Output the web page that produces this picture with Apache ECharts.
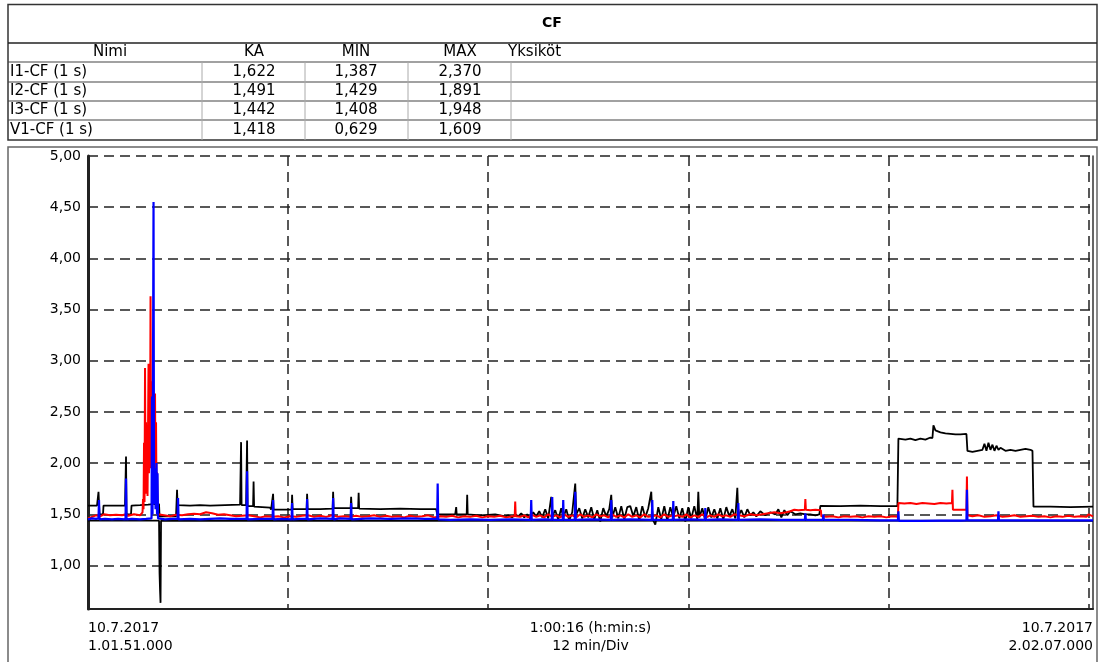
<!DOCTYPE html>
<html><head><meta charset="utf-8">
<script src="https://cdn.jsdelivr.net/npm/echarts@6/dist/echarts.min.js"></script>
<style>html,body{margin:0;padding:0;background:#fff}#c{width:1099px;height:662px}</style>
</head><body><div id="c"></div><script>
// ---------- table data ----------
const tableTitle = 'CF';
const headers = ['Nimi', 'KA', 'MIN', 'MAX', 'Yksiköt'];
const names = ['I1-CF (1 s)', 'I2-CF (1 s)', 'I3-CF (1 s)', 'V1-CF (1 s)'];
const avgVals = ['1,622', '1,491', '1,442', '1,418'];
const minVals = ['1,387', '1,429', '1,408', '0,629'];
const maxVals = ['2,370', '1,891', '1,948', '1,609'];

// ---------- axis ----------
const yTicks = [1, 1.5, 2, 2.5, 3, 3.5, 4, 4.5, 5];
const yMin = 0.575, yMax = 5;
const xDivs = [0, 12, 24, 36, 48, 60];      // minutes, 12 min/Div
const xSpan = 60.27;                         // 1:00:16
const startLabel = '10.7.2017\n1.01.51.000';
const endLabel = '10.7.2017\n2.02.07.000';
const midLabel = '1:00:16 (h:min:s)\n12 min/Div';

// ---------- series (minutes from start, value) ----------
const I1 = [
[0.00,1.585],[0.54,1.585],[0.63,1.72],[0.69,1.50],[0.90,1.50],[0.93,1.585],[2.22,1.585],[2.28,2.065],[2.31,1.50],[2.58,1.50],[2.61,1.585],[3.12,1.59],[3.60,1.595],[3.90,1.60],[3.93,2.32],[3.96,1.60],[4.26,1.60],[4.29,1.48],[5.28,1.48],[5.34,1.74],[5.37,1.59],[6.12,1.585],[6.72,1.59],[7.32,1.585],[8.22,1.59],[9.12,1.595],[9.18,2.205],[9.21,1.59],[9.48,1.59],[9.54,2.22],[9.57,1.58],[9.90,1.58],[9.93,1.82],[9.96,1.575],[10.44,1.57],[10.92,1.565],[10.98,1.545],[11.07,1.545],[11.10,1.70],[11.13,1.545],[12.21,1.545],[12.24,1.69],[12.27,1.55],[13.11,1.55],[13.14,1.70],[13.17,1.55],[13.92,1.55],[14.67,1.555],[14.70,1.72],[14.73,1.56],[15.75,1.56],[15.78,1.67],[15.81,1.56],[16.20,1.56],[16.23,1.71],[16.26,1.555],[17.52,1.55],[18.72,1.555],[19.92,1.55],[20.88,1.55],[20.94,1.50],[22.02,1.50],[22.08,1.57],[22.11,1.50],[22.71,1.50],[22.74,1.69],[22.77,1.50],[23.52,1.49],[24.42,1.50],[25.02,1.48],
[25.20,1.49],[25.44,1.47],[25.62,1.50],[25.80,1.48],[25.98,1.51],[26.16,1.47],[26.34,1.50],[26.52,1.46],[26.70,1.52],[26.88,1.48],[27.06,1.53],[27.24,1.47],[27.42,1.55],[27.60,1.46],[27.78,1.67],[27.84,1.48],[28.02,1.54],[28.20,1.45],[28.38,1.56],[28.50,1.47],[28.68,1.55],[28.86,1.44],[29.04,1.52],[29.22,1.80],[29.28,1.50],[29.46,1.56],[29.64,1.46],[29.82,1.55],[30.00,1.47],[30.18,1.57],[30.36,1.45],[30.54,1.54],[30.72,1.43],[30.90,1.56],[31.08,1.48],[31.26,1.55],[31.38,1.69],[31.44,1.47],[31.62,1.57],[31.80,1.46],[31.98,1.58],[32.16,1.45],[32.34,1.57],[32.52,1.58],[32.70,1.48],[32.88,1.57],[33.06,1.44],[33.24,1.58],[33.42,1.47],[33.60,1.56],[33.78,1.72],[33.84,1.46],[34.02,1.40],[34.20,1.57],[34.38,1.45],[34.56,1.58],[34.74,1.44],[34.92,1.57],[35.10,1.47],[35.28,1.58],[35.46,1.46],[35.64,1.56],[35.82,1.43],[36.00,1.57],[36.18,1.46],[36.36,1.58],[36.54,1.45],[36.60,1.72],[36.66,1.47],[36.84,1.56],[37.02,1.44],[37.20,1.57],[37.38,1.47],[37.56,1.55],[37.74,1.46],[37.92,1.56],[38.10,1.45],[38.28,1.57],[38.46,1.48],[38.64,1.55],[38.82,1.46],[38.94,1.76],[39.00,1.48],[39.18,1.54],[39.36,1.47],[39.54,1.55],[39.72,1.49],[39.90,1.52],[40.08,1.48],[40.32,1.53],[40.62,1.49],[40.92,1.52],[41.22,1.50],[41.40,1.55],[41.58,1.47],[41.76,1.54],[41.94,1.49],[42.12,1.53],[42.42,1.50],[42.72,1.51],[43.02,1.50],[43.32,1.50],[43.62,1.49],[43.86,1.50],[43.92,1.583],[45.12,1.58],[46.32,1.585],[47.52,1.58],[48.54,1.58],[48.60,2.24],[49.02,2.23],[49.32,2.24],[49.62,2.225],[49.92,2.24],[50.22,2.23],[50.52,2.25],[50.64,2.245],[50.70,2.37],[50.82,2.32],[51.12,2.30],[51.42,2.29],[51.72,2.285],[52.02,2.28],[52.32,2.28],[52.68,2.285],[52.74,2.12],[53.04,2.11],[53.34,2.12],[53.64,2.13],[53.76,2.19],[53.88,2.12],[54.00,2.20],[54.12,2.13],[54.24,2.18],[54.36,2.12],[54.48,2.17],[54.60,2.13],[54.72,2.15],[55.02,2.12],[55.32,2.13],[55.62,2.12],[55.92,2.13],[56.22,2.14],[56.52,2.13],[56.64,2.12],[56.70,1.575],[57.72,1.575],[58.92,1.57],[60.27,1.575]
];

const I2 = [
[0.00,1.46],[0.24,1.475],[0.48,1.49],[0.72,1.48],[0.96,1.50],[1.32,1.49],[1.68,1.495],[2.04,1.49],[2.28,1.50],[2.40,1.485],[2.76,1.50],[3.12,1.49],[3.27,1.52],[3.30,1.65],[3.33,1.55],[3.36,2.20],[3.39,1.62],[3.42,2.93],[3.45,1.70],[3.48,2.40],[3.51,1.75],[3.54,2.10],[3.57,1.68],[3.63,2.97],[3.66,1.90],[3.69,2.55],[3.72,1.95],[3.75,3.63],[3.78,2.10],[3.81,2.80],[3.84,1.85],[3.87,2.35],[3.90,1.75],[3.93,2.20],[3.96,1.80],[4.02,2.68],[4.05,1.70],[4.08,2.40],[4.11,1.62],[4.14,1.91],[4.17,1.55],[4.20,1.50],[4.56,1.49],[4.92,1.48],[5.28,1.495],[5.64,1.49],[6.00,1.50],[6.36,1.505],[6.72,1.50],[7.08,1.52],[7.44,1.51],[7.80,1.495],[8.16,1.50],[8.52,1.49],[8.88,1.48],[9.24,1.485],[9.60,1.49],[9.96,1.48],[10.32,1.47],[10.68,1.48],[11.04,1.475],[11.40,1.48],[11.76,1.47],[12.12,1.48],[12.48,1.475],[12.84,1.485],[13.20,1.49],[13.56,1.475],[13.92,1.485],[14.28,1.475],[14.64,1.49],[15.00,1.475],[15.36,1.48],[15.72,1.475],[16.08,1.485],[16.44,1.475],[16.80,1.48],[17.16,1.49],[17.52,1.475],[17.88,1.485],[18.24,1.475],[18.60,1.48],[18.96,1.47],[19.32,1.485],[19.68,1.475],[20.04,1.48],[20.40,1.49],[20.76,1.47],[21.12,1.48],[21.48,1.475],[21.84,1.485],[22.20,1.47],[22.56,1.48],[22.92,1.475],[23.28,1.485],[23.64,1.47],[24.00,1.48],[24.36,1.475],[24.72,1.485],[25.08,1.47],[25.44,1.48],[25.59,1.48],[25.62,1.625],[25.65,1.48],[25.92,1.475],[26.16,1.49],[26.40,1.47],[26.64,1.495],[26.88,1.475],[27.12,1.49],[27.36,1.47],[27.60,1.50],[27.84,1.475],[28.08,1.49],[28.32,1.47],[28.56,1.50],[28.80,1.475],[29.04,1.49],[29.28,1.47],[29.52,1.50],[29.76,1.475],[30.00,1.49],[30.24,1.47],[30.48,1.50],[30.72,1.48],[30.96,1.49],[31.20,1.47],[31.44,1.50],[31.68,1.475],[31.92,1.49],[32.16,1.47],[32.40,1.50],[32.64,1.475],[32.88,1.49],[33.12,1.47],[33.36,1.50],[33.60,1.475],[33.81,1.48],[33.84,1.53],[33.87,1.48],[34.08,1.49],[34.32,1.47],[34.56,1.50],[34.80,1.475],[35.07,1.49],[35.10,1.56],[35.13,1.48],[35.40,1.49],[35.64,1.475],[35.88,1.50],[36.12,1.47],[36.36,1.49],[36.60,1.475],[36.84,1.50],[37.08,1.47],[37.32,1.49],[37.56,1.475],[37.80,1.50],[38.04,1.48],[38.28,1.49],[38.52,1.475],[38.76,1.50],[38.97,1.49],[39.00,1.55],[39.03,1.49],[39.36,1.48],[39.72,1.50],[40.08,1.49],[40.44,1.50],[40.80,1.51],[41.16,1.52],[41.52,1.51],[41.88,1.52],[42.12,1.53],[42.36,1.545],[42.60,1.54],[42.99,1.545],[43.02,1.65],[43.05,1.545],[43.32,1.54],[43.62,1.545],[43.95,1.54],[43.98,1.48],[44.28,1.475],[44.64,1.48],[45.00,1.47],[45.36,1.48],[45.72,1.475],[46.08,1.48],[46.44,1.47],[46.80,1.48],[47.16,1.475],[47.52,1.48],[47.88,1.47],[48.24,1.48],[48.57,1.475],[48.60,1.61],[48.96,1.605],[49.32,1.61],[49.68,1.60],[50.04,1.61],[50.40,1.605],[50.76,1.60],[51.12,1.61],[51.48,1.605],[51.81,1.61],[51.84,1.74],[51.87,1.545],[52.20,1.545],[52.68,1.545],[52.71,1.87],[52.74,1.49],[53.04,1.48],[53.40,1.49],[53.76,1.475],[54.12,1.48],[54.48,1.49],[54.84,1.475],[55.20,1.48],[55.56,1.49],[55.92,1.475],[56.28,1.48],[56.64,1.485],[57.00,1.475],[57.36,1.48],[57.72,1.47],[58.08,1.48],[58.44,1.475],[58.80,1.485],[59.16,1.475],[59.52,1.48],[59.88,1.475],[60.00,1.50],[60.27,1.48]
];

const I3 = [
[0.00,1.45],[0.24,1.46],[0.48,1.455],[0.63,1.46],[0.66,1.64],[0.69,1.45],[1.02,1.455],[1.44,1.45],[1.80,1.455],[2.25,1.45],[2.28,1.85],[2.31,1.45],[2.64,1.455],[3.12,1.45],[3.48,1.455],[3.81,1.46],[3.84,2.65],[3.87,1.50],[3.93,4.55],[3.96,1.60],[4.02,1.95],[4.05,1.55],[4.11,2.00],[4.14,1.50],[4.17,1.90],[4.20,1.46],[4.62,1.45],[5.04,1.455],[5.37,1.455],[5.40,1.66],[5.43,1.45],[6.12,1.455],[6.72,1.45],[7.32,1.455],[7.92,1.46],[8.52,1.455],[9.51,1.455],[9.54,1.92],[9.57,1.45],[10.32,1.455],[11.07,1.455],[11.10,1.64],[11.13,1.45],[11.64,1.455],[12.21,1.45],[12.24,1.61],[12.27,1.45],[12.72,1.455],[13.11,1.455],[13.14,1.65],[13.17,1.45],[13.92,1.46],[14.67,1.455],[14.70,1.66],[14.73,1.45],[15.12,1.46],[15.75,1.455],[15.78,1.61],[15.81,1.45],[16.92,1.46],[18.12,1.455],[19.32,1.46],[20.22,1.455],[20.94,1.455],[20.97,1.80],[21.00,1.45],[21.72,1.445],[22.92,1.45],[24.12,1.445],[25.32,1.45],[26.55,1.445],[26.58,1.64],[26.61,1.445],[27.42,1.45],[27.81,1.445],[27.84,1.67],[27.87,1.445],[28.47,1.445],[28.50,1.64],[28.53,1.445],[29.19,1.445],[29.22,1.72],[29.25,1.445],[30.12,1.45],[31.35,1.445],[31.38,1.64],[31.41,1.445],[32.52,1.45],[33.81,1.445],[33.84,1.64],[33.87,1.445],[35.07,1.445],[35.10,1.63],[35.13,1.445],[36.12,1.45],[36.99,1.445],[37.02,1.56],[37.05,1.445],[37.92,1.45],[38.97,1.445],[39.00,1.61],[39.03,1.445],[40.32,1.45],[41.52,1.445],[42.99,1.445],[43.02,1.51],[43.05,1.445],[44.07,1.445],[44.10,1.50],[44.13,1.445],[45.72,1.445],[47.52,1.44],[48.57,1.44],[48.60,1.53],[48.63,1.435],[49.92,1.435],[51.12,1.438],[52.32,1.438],[52.68,1.44],[52.71,1.74],[52.74,1.44],[53.52,1.44],[54.57,1.44],[54.60,1.53],[54.63,1.44],[55.92,1.44],[57.72,1.44],[60.27,1.44]
];

const V1 = [
[0.00,1.438],[4.26,1.438],[4.29,0.93],[4.32,0.76],[4.35,0.635],[4.38,1.438],[20.00,1.436],[40.00,1.438],[60.27,1.436]
];

// ---------- chart ----------
const FONT = '"DejaVu Sans", "Liberation Sans", Arial, sans-serif';
const chart = echarts.init(document.getElementById('c'), null, {renderer: 'canvas'});

const colX = [8, 202, 305, 408, 511, 1097];
const rowY = [4.5, 43, 62, 82, 101, 120, 140];
const graphics = [];
graphics.push({type: 'rect', shape: {x: 8, y: 4.5, width: 1089, height: 135.5}, style: {fill: '#fff', stroke: '#333', lineWidth: 1.5}, z: 1});
graphics.push({type: 'line', shape: {x1: 8, y1: 43, x2: 1097, y2: 43}, style: {stroke: '#222', lineWidth: 1.5}, z: 2});
for (let i = 2; i < 6; i++) {
  graphics.push({type: 'line', shape: {x1: 8, y1: rowY[i], x2: 1097, y2: rowY[i]}, style: {stroke: '#444', lineWidth: 1.2}, z: 2});
}
for (let i = 1; i < 5; i++) {
  graphics.push({type: 'line', shape: {x1: colX[i], y1: 62, x2: colX[i], y2: 140}, style: {stroke: '#aaa', lineWidth: 1}, z: 2});
}
graphics.push({type: 'text', style: {x: 552, y: 23, text: tableTitle, font: 'bold 14px ' + FONT, fill: '#000', textAlign: 'center', textVerticalAlign: 'middle'}, z: 3});
const colCenters = [110, 254, 356, 460];
headers.forEach((h, i) => {
  const isLast = i === 4;
  graphics.push({type: 'text', style: {x: isLast ? 508 : colCenters[i], y: 52.5, text: h, font: '15px ' + FONT, fill: '#000', textAlign: isLast ? 'left' : 'center', textVerticalAlign: 'middle'}, z: 3});
});
names.forEach((n, r) => {
  const cy = (rowY[r + 2] + rowY[r + 3]) / 2;
  graphics.push({type: 'text', style: {x: 10, y: cy, text: n, font: '15px ' + FONT, fill: '#000', textAlign: 'left', textVerticalAlign: 'middle'}, z: 3});
  [avgVals[r], minVals[r], maxVals[r]].forEach((v, k) => {
    graphics.push({type: 'text', style: {x: colCenters[k + 1], y: cy, text: v, font: '15px ' + FONT, fill: '#000', textAlign: 'center', textVerticalAlign: 'middle'}, z: 3});
  });
});
graphics.push({type: 'rect', shape: {x: 8, y: 147, width: 1089, height: 520}, style: {fill: 'none', stroke: '#666', lineWidth: 1.5}, z: -1, silent: true});

const gridDash = {type: [10, 6], color: '#222', width: 1.5};

chart.setOption({
  animation: false,
  backgroundColor: '#fff',
  graphic: {elements: graphics},
  grid: {left: 88, right: 6, top: 156, bottom: 53, containLabel: false, outerBoundsMode: 'none'},
  xAxis: {
    type: 'value', min: 0, max: xSpan,
    axisLine: {show: true, lineStyle: {color: '#222', width: 2}},
    axisTick: {show: false, customValues: xDivs},
    splitLine: {show: true, lineStyle: gridDash},
    axisLabel: {
      customValues: [0, xSpan], margin: 10, fontFamily: FONT, fontSize: 14, lineHeight: 18, color: '#000',
      alignMinLabel: 'left', alignMaxLabel: 'right',
      formatter: v => (v < 1 ? startLabel : endLabel)
    },
    name: midLabel, nameLocation: 'middle', nameGap: 10, nameMoveOverlap: false,
    nameTextStyle: {fontFamily: FONT, fontSize: 14, lineHeight: 18, color: '#000', verticalAlign: 'top'}
  },
  yAxis: [{
    type: 'value', min: yMin, max: yMax,
    axisLine: {show: true, lineStyle: {color: '#222', width: 3}},
    axisTick: {show: false, customValues: yTicks},
    splitLine: {show: true, lineStyle: gridDash},
    axisLabel: {customValues: yTicks, margin: 7, fontFamily: FONT, fontSize: 14, color: '#000',
      formatter: v => v.toFixed(2).replace('.', ',')}
  }, {
    type: 'value', min: yMin, max: yMax, position: 'right',
    axisLine: {show: true, lineStyle: {color: '#333', width: 1.5}},
    axisTick: {show: false}, axisLabel: {show: false}, splitLine: {show: false}
  }],
  series: [
    {name: 'V1-CF (1 s)', type: 'line', data: V1, showSymbol: false, lineStyle: {color: '#000', width: 1.8}, itemStyle: {color: '#000'}},
    {name: 'I1-CF (1 s)', type: 'line', data: I1, showSymbol: false, lineStyle: {color: '#000', width: 1.8}, itemStyle: {color: '#000'}},
    {name: 'I2-CF (1 s)', type: 'line', data: I2, showSymbol: false, lineStyle: {color: '#ff0000', width: 2}, itemStyle: {color: '#ff0000'}},
    {name: 'I3-CF (1 s)', type: 'line', data: I3, showSymbol: false, lineStyle: {color: '#0000ff', width: 2.2}, itemStyle: {color: '#0000ff'}}
  ]
});
</script></body></html>
